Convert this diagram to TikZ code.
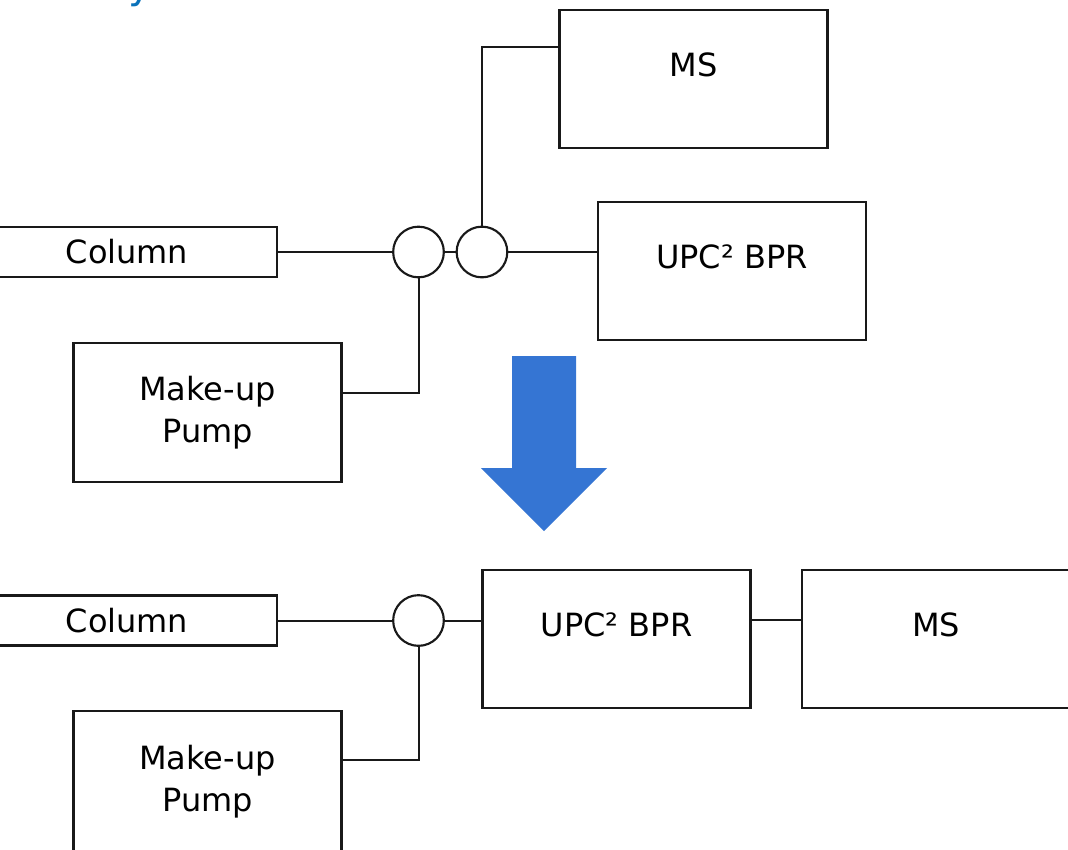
\documentclass[tikz,border=0pt]{standalone}
\usepackage{fontspec}
\setmainfont{DejaVu Sans}
\usepackage{tikz}
\usetikzlibrary{positioning,calc}
\definecolor{arrowblue}{HTML}{3575D3}
\definecolor{titleblue}{HTML}{0A72BA}

\begin{document}
\begin{tikzpicture}[
  x=0.75pt, y=-0.75pt,
  unit/.style={rectangle, draw=black!90, line width=1.6pt, fill=white,
    minimum width=201pt, minimum height=104pt, align=center,
    inner sep=0pt, font=\fontsize{24}{31.5}\selectfont},
  raised/.style={text height=18pt, text depth=21.4pt},
  feed/.style={unit, minimum width=225pt, minimum height=37.5pt},
  tee/.style={circle, draw=black!90, line width=1.6pt, fill=white,
    minimum size=38pt, inner sep=0pt},
  pipe/.style={draw=black!90, line width=1.5pt}
]
\useasboundingbox (0,0) rectangle (1068,850);

\node[anchor=base west, inner sep=0pt, text=titleblue,
  font=\fontsize{30}{36}\selectfont] (title) at (128,-1.4) {y};

\node[unit, raised] (ms1) at (693.5,79) {MS};
\node[unit, raised] (bpr1) at (732,271) {UPC² BPR};
\node[feed] (col1) at (127,252) {Column};
\node[unit] (pump1) at (207.5,412.5) {Make-up\\Pump};
\node[tee] (mix1) at (418.5,252) {};
\node[tee, right=8pt of mix1] (split1) {};

\draw[pipe] (col1) -- (mix1);
\draw[pipe] (mix1) -- (split1);
\draw[pipe] (split1) -- (split1 -| bpr1.west);
\draw[pipe] (split1.north) |- ([yshift=24pt]ms1.west);
\draw[pipe] (mix1.south) |- ([yshift=15pt]pump1.east);

\fill[arrowblue] (512,356) -- (576,356) -- (576,468) -- (607,468)
  -- (544,531) -- (481,468) -- (512,468) -- cycle;

\node[feed] (col2) at (127,620.5) {Column};
\node[tee] (mix2) at (418.5,620.5) {};
\node[unit, raised] (bpr2) at (616.5,639) {UPC² BPR};
\node[unit, raised] (ms2) at (936,639) {MS};
\node[unit, minimum height=107pt] (pump2) at (207.5,782) {Make-up\\Pump};

\draw[pipe] (col2) -- (mix2);
\draw[pipe] (mix2) -- (mix2 -| bpr2.west);
\draw[pipe] ([yshift=14pt]bpr2.east) -- ([yshift=14pt]ms2.west);
\draw[pipe] (mix2.south) |- ([yshift=16.5pt]pump2.east);
\end{tikzpicture}
\end{document}
